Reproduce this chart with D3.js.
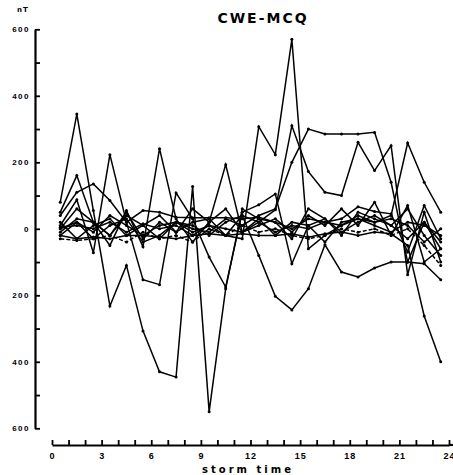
<!DOCTYPE html>
<html>
<head>
<meta charset="utf-8">
<script src="https://cdn.jsdelivr.net/npm/d3@7"></script>
<style>
  body { margin: 0; background: #fff; }
  svg { font-family: "DejaVu Sans", Arial, sans-serif; }
</style>
</head>
<body>
<div id="chart"></div>
<script>
// storm time (hours) - points sit at the half hour
let hours = d3.range(0.5, 24, 1);
let xTicks = d3.range(0, 25, 1);
let xLabels = [0, 3, 6, 9, 12, 15, 18, 21, 24];
let yTicks = d3.range(-600, 601, 100);
let yLabels = [-600, -400, -200, 0, 200, 400, 600];

// one array per storm (nT)
let storm1 = [80, 345, 55, -232, -110, -307, -430, -446, 127, -550, -180, 60, 30, -20, 20, 10, 30, -10, 20, 40, 10, -30, 20, -40];
let storm2 = [10, 87, -72, 223, 20, -153, -168, 108, 30, -85, -175, 50, 72, 105, -105, 10, -40, 20, 30, 10, -10, 20, 10, -20];
let storm3 = [50, 160, 20, -50, 55, -54, 241, 30, -40, 20, 60, -10, 30, 20, -30, 60, 30, -20, 50, 30, 10, 60, -20, -80];
let storm4 = [40, 110, 135, 85, 20, 55, 50, 35, 33, 33, 33, 30, 35, 20, 0, 30, 20, 30, 66, 52, 45, -70, 70, -30];
let storm5 = [0, 20, -10, 40, 10, -20, 10, 20, 0, -10, 30, 10, 40, 60, 200, 300, 285, 285, 285, 290, 140, -100, 20, -60];
let storm6 = [20, -30, 10, 30, -20, 10, 40, -10, 20, 30, -20, -30, 307, 223, 570, -60, -20, 10, 40, 20, 30, 10, -40, 0];
let storm7 = [-10, 30, 20, -20, 40, 10, -30, 20, 10, -20, 20, 40, 20, 57, 310, 172, 110, 100, 260, 175, 250, -138, 50, -100];
let storm8 = [-20, 20, -30, 10, 30, -40, -20, 20, -10, 10, -20, 40, -80, -203, -244, -180, -48, -130, -145, -118, -100, -100, -105, -153];
let storm9 = [-20, -30, -25, -30, -20, -20, -25, -30, -20, -15, -20, -15, -20, -20, -15, -25, -15, -10, -20, -10, -15, -50, -262, -400];
let storm10 = [5, 10, 0, 20, -10, 15, 0, 10, -20, 10, 0, -10, 20, -10, 10, 0, 20, 10, 30, 20, 40, 258, 140, 50];
let storm11 = [0, 60, 20, -20, 50, -30, 20, -10, 60, 20, 193, -10, 10, 30, -10, 40, 10, 60, 10, 80, -20, 70, -100, -60];
let storm12 = [-30, -35, -30, -20, -40, -10, -30, -20, -40, 0, -20, 10, -10, 0, -20, -30, -20, 0, -10, 0, -20, 0, -50, -110];

let storms = [storm1, storm2, storm3, storm4, storm5, storm6, storm7, storm8, storm9, storm10, storm11, storm12];
let dashed = [false, false, false, false, false, false, false, false, false, false, false, true];

let width = 453;
let height = 475;

let xScale = d3.scaleLinear()
    .domain([0, 24])
    .range([52, 449]);

let yScale = d3.scaleLinear()
    .domain([-600, 600])
    .range([428.3, 29.3]);

let svg = d3.select("#chart")
    .append("svg")
    .attr("width", width)
    .attr("height", height);

// y axis, ticks pointing into the plot
let yAxis = d3.axisLeft(yScale)
    .tickValues(yTicks)
    .tickSizeInner(-5)
    .tickSizeOuter(0)
    .tickPadding(5)
    .tickFormat(d => yLabels.includes(d) ? String(Math.abs(d)) : "");

let gy = svg.append("g")
    .attr("transform", "translate(35,0)")
    .call(yAxis);
gy.select(".domain").attr("stroke", "#000").attr("stroke-width", 2.2);
gy.selectAll(".tick line").attr("stroke-width", 1.8);
gy.selectAll(".tick text")
    .attr("font-size", "8px")
    .attr("font-weight", "bold")
    .attr("letter-spacing", "1.5px")
    .attr("fill", "#000");

// x axis, separated below the plot, ticks pointing up
let xAxis = d3.axisBottom(xScale)
    .tickValues(xTicks)
    .tickSizeInner(-5)
    .tickSizeOuter(0)
    .tickPadding(8)
    .tickFormat(d => xLabels.includes(d) ? d : "");

let gx = svg.append("g")
    .attr("transform", "translate(0,445)")
    .call(xAxis);
gx.select(".domain").attr("stroke-width", 2.2);
gx.append("line")
    .attr("x1", xScale(24)).attr("x2", 453)
    .attr("stroke", "#000").attr("stroke-width", 2.2);
gx.selectAll(".tick line").attr("stroke-width", 1.8);
gx.selectAll(".tick text")
    .attr("font-size", "9px")
    .attr("font-weight", "bold")
    .attr("letter-spacing", "1px")
    .attr("fill", "#000");

// lines
let line = d3.line()
    .x((d, i) => xScale(hours[i]))
    .y(d => yScale(d));

storms.forEach((s, k) => {
    svg.append("path")
        .datum(s)
        .attr("fill", "none")
        .attr("stroke", "#000")
        .attr("stroke-width", 1.5)
        .attr("stroke-linejoin", "miter")
        .attr("stroke-dasharray", dashed[k] ? "4,2" : null)
        .attr("d", line);

    svg.selectAll(null)
        .data(s)
        .enter()
        .append("circle")
        .attr("cx", (d, i) => xScale(hours[i]))
        .attr("cy", d => yScale(d))
        .attr("r", 1.5)
        .attr("fill", "#000");
});

// labels
svg.append("text")
    .attr("x", 263)
    .attr("y", 23)
    .attr("text-anchor", "middle")
    .attr("font-size", "14px")
    .attr("font-weight", "bold")
    .attr("letter-spacing", "2px")
    .text("CWE-MCQ");

svg.append("text")
    .attr("x", 17)
    .attr("y", 12)
    .attr("font-size", "7px")
    .attr("font-weight", "bold")
    .attr("letter-spacing", "1px")
    .text("nT");

svg.append("text")
    .attr("x", 248)
    .attr("y", 473)
    .attr("text-anchor", "middle")
    .attr("font-size", "10px")
    .attr("font-weight", "bold")
    .attr("letter-spacing", "3px")
    .text("storm time");
</script>
</body>
</html>
